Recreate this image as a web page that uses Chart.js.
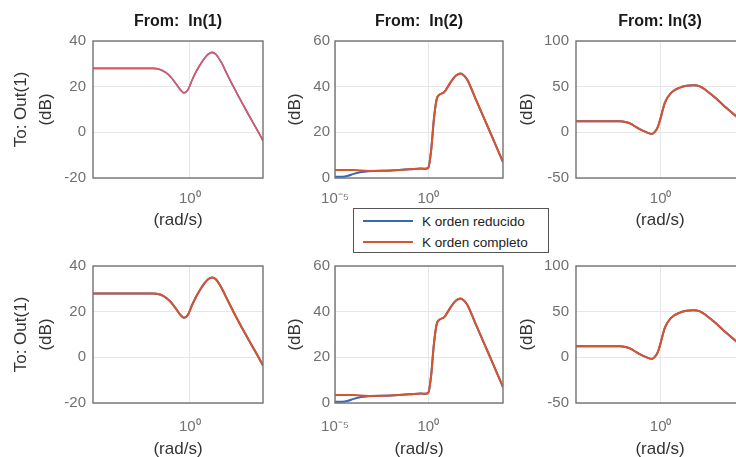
<!DOCTYPE html>
<html>
<head>
<meta charset="utf-8">
<script src="https://cdn.jsdelivr.net/npm/chart.js@4.4.0/dist/chart.umd.min.js"></script>
<style>
  html, body { margin: 0; padding: 0; background: #fff; overflow: hidden; }
  body { width: 736px; height: 457px; position: relative; font-family: 'Liberation Sans', Arial, Helvetica, sans-serif; }
  canvas { position: absolute; }
  #legend { position: absolute; left: 353px; top: 208px; width: 194px; height: 43px; border: 1px solid #555; background: #fff; }
  .lrow { position: absolute; left: 9px; height: 20px; display: flex; align-items: center; font-size: 13.5px; color: #222; white-space: nowrap; }
  .sw { width: 50px; height: 2px; margin-right: 9px; }
</style>
</head>
<body>
<canvas id="c11" width="275" height="236" style="left:0px;top:0px"></canvas>
<canvas id="c12" width="235" height="236" style="left:280px;top:0px"></canvas>
<canvas id="c13" width="248" height="236" style="left:512px;top:0px"></canvas>
<canvas id="c21" width="275" height="225" style="left:0px;top:240px"></canvas>
<canvas id="c22" width="235" height="225" style="left:280px;top:240px"></canvas>
<canvas id="c23" width="248" height="225" style="left:512px;top:240px"></canvas>
<div id="legend">
  <div class="lrow" style="top:2px"><div class="sw" style="background:#3667b8"></div><span>K orden reducido</span></div>
  <div class="lrow" style="top:23px"><div class="sw" style="background:#d9532c"></div><span>K orden completo</span></div>
</div>
<script>
// ---------------- DATA (frequency in rad/s, magnitude in dB) ----------------
const seriesNames = ['K orden reducido', 'K orden completo'];
const columnTitles = ['From:  In(1)', 'From:  In(2)', 'From: In(3)'];
const rowLabels = ['To: Out(1)', 'To: Out(1)'];

// In(1) -> Out(1): reduced and full order coincide
const freqIn1 = [6.3e-6, 1e-4, 1e-3, 0.01, 0.025, 0.055, 0.1, 0.19, 0.32, 0.48, 0.79, 1.26, 2.0, 3.5, 6.3, 10, 15.8, 25, 50, 100, 219, 1000, 4900, 8500];
const magIn1  = [28, 28, 28, 28, 27.5, 26, 24, 21, 18.5, 17.3, 18.6, 22.5, 26, 29.5, 32.6, 34.3, 35, 34.2, 30.5, 25.5, 20, 10, 0, -3.6];

// In(2) -> Out(1)
const freqIn2Red  = [1e-5, 1e-4, 6.3e-4, 0.01, 0.1, 0.4, 0.71, 1, 1.41, 2.0, 2.8, 4.0, 7.1, 15.8, 31.6, 55, 89, 126, 316, 1000, 3162, 10000];
const magIn2Red   = [3.5, 3.5, 3.1, 3.3, 3.8, 4.2, 4.0, 4.5, 12, 26, 34.5, 36.5, 37.6, 42, 45, 45.8, 44.5, 42.8, 35.3, 25.9, 16.5, 7];
const freqIn2Blue = [1e-5, 2.5e-5, 5e-5, 1e-4, 2.5e-4, 6.3e-4, 0.01, 0.1, 0.4, 0.71, 1, 1.41, 2.0, 2.8, 4.0, 7.1, 15.8, 31.6, 55, 89, 126, 316, 1000, 3162, 10000];
const magIn2Blue  = [0.6, 0.6, 1.0, 1.8, 2.6, 3.0, 3.3, 3.8, 4.2, 4.0, 4.5, 12, 26, 34.5, 36.5, 37.6, 42, 45, 45.8, 44.5, 42.8, 35.3, 25.9, 16.5, 7];

// In(3) -> Out(1): reduced and full order coincide
const freqIn3 = [2.7e-5, 1e-3, 6.3e-3, 0.0126, 0.025, 0.051, 0.1, 0.178, 0.32, 0.5, 0.71, 0.91, 1.7, 3.9, 11, 25, 59, 132, 302, 1000, 2344, 12300, 31623];
const magIn3  = [12, 12, 12, 11.3, 9.2, 5.4, 2.2, 0, -1.7, 0.8, 6, 12.8, 32.6, 43.8, 49, 51, 51.6, 50.4, 45.6, 37, 30, 17.3, 10];

// Tick values and labels
const yTicksIn1 = [-20, 0, 20, 40];
const yTicksIn2 = [0, 20, 40, 60];
const yTicksIn3 = [-50, 0, 50, 100];
const xTicksIn1 = [1];
const xTickLabelsIn1 = ['10\u2070'];
const xTicksIn2 = [1e-5, 1];
const xTickLabelsIn2 = ['10\u207B\u2075', '10\u2070'];
const xTicksIn3 = [1];
const xTickLabelsIn3 = ['10\u2070'];

// ---------------- STYLE ----------------
const FONT = "'Liberation Sans', Arial, Helvetica, sans-serif";
const BLUE = '#3667b8';
const RED = '#d9532c';

const frame = {
  id: 'frame',
  afterDatasetsDraw(chart) {
    const a = chart.chartArea, ctx = chart.ctx;
    ctx.save();
    ctx.strokeStyle = '#727272';
    ctx.lineWidth = 1.4;
    ctx.strokeRect(a.left, a.top, a.right - a.left, a.bottom - a.top);
    ctx.restore();
  }
};

function pts(fx, fy) { return fx.map((f, i) => ({ x: f, y: fy[i] })); }

function makePanel(id, p) {
  const datasets = [
    { label: seriesNames[0], order: 2, data: pts(p.bx, p.by), borderColor: BLUE, borderWidth: p.lw, pointRadius: 0, cubicInterpolationMode: 'monotone', fill: false },
    { label: seriesNames[1], order: 1, data: pts(p.rx, p.ry), borderColor: p.red || RED, borderWidth: p.lw, pointRadius: 0, cubicInterpolationMode: 'monotone', fill: false }
  ];
  new Chart(document.getElementById(id), {
    type: 'line',
    data: { datasets },
    plugins: [frame],
    options: {
      responsive: false,
      animation: false,
      devicePixelRatio: 1,
      layout: { padding: { left: 0, right: p.padRight, top: p.padTop, bottom: 0 } },
      plugins: {
        legend: { display: false },
        tooltip: { enabled: false },
        title: {
          display: !!p.title, text: p.title || '', fullSize: false,
          color: '#1a1a1a', font: { family: FONT, size: 16, weight: 'bold', lineHeight: 1.2 },
          padding: { top: 12, bottom: 9.8 }
        }
      },
      scales: {
        x: {
          type: 'logarithmic', min: p.xmin, max: p.xmax,
          afterBuildTicks: s => { s.ticks = p.xTicks.map(v => ({ value: v })); },
          afterFit: s => { s.height = p.xH; },
          grid: { color: '#e6e6e6', lineWidth: 1, drawTicks: false },
          border: { display: false },
          ticks: { color: '#707070', font: { family: FONT, size: 15 }, padding: p.xPad, maxRotation: 0, autoSkip: false,
                   callback: (v, i) => p.xLabels[i] },
          title: { display: !!p.xTitle, text: p.xTitle || '', color: '#333', font: { family: FONT, size: 17, lineHeight: 1.2 },
                   padding: { top: 0, bottom: 5.8 } }
        },
        y: {
          type: 'linear', min: p.ymin, max: p.ymax,
          afterBuildTicks: s => { s.ticks = p.yTicks.map(v => ({ value: v })); },
          afterFit: s => { s.width = p.yW; },
          grid: { color: '#e6e6e6', lineWidth: 1, drawTicks: false },
          border: { display: false },
          ticks: { color: '#707070', font: { family: FONT, size: 15 }, padding: p.yPad },
          title: { display: true, text: p.yTitle, color: '#333', font: { family: FONT, size: 17, lineHeight: '25px' },
                   padding: { top: p.yTitlePad, bottom: 0 } }
        }
      }
    }
  });
}

const rows = [
  { suffix: '1', padTop: 0, xH: 58, xPad: 12, titles: true },
  { suffix: '2', padTop: 26, xH: 62, xPad: 15, titles: false }
];

rows.forEach((r, ri) => {
  makePanel('c' + r.suffix + '1', {
    title: r.titles ? columnTitles[0] : null,
    bx: freqIn1, by: magIn1, rx: freqIn1, ry: magIn1,
    red: ri === 0 ? '#de5866' : RED, lw: ri === 0 ? 1.6 : 2,
    xmin: 6.3e-6, xmax: 8500, xTicks: xTicksIn1, xLabels: xTickLabelsIn1,
    ymin: -20, ymax: 40, yTicks: yTicksIn1,
    yTitle: [rowLabels[ri], '(dB)'], yTitlePad: 9.2, yW: 93, yPad: 7,
    xTitle: '(rad/s)', xH: r.xH, xPad: r.xPad, padRight: 12, padTop: r.padTop
  });
  makePanel('c' + r.suffix + '2', {
    title: r.titles ? columnTitles[1] : null,
    bx: freqIn2Blue, by: magIn2Blue, rx: freqIn2Red, ry: magIn2Red, lw: 2,
    xmin: 1e-5, xmax: 1e4, xTicks: xTicksIn2, xLabels: xTickLabelsIn2,
    ymin: 0, ymax: 60, yTicks: yTicksIn2,
    yTitle: '(dB)', yTitlePad: 2.5, yW: 55, yPad: 5,
    xTitle: ri === 0 ? null : '(rad/s)', xH: r.xH, xPad: r.xPad, padRight: 12, padTop: r.padTop
  });
  makePanel('c' + r.suffix + '3', {
    title: r.titles ? columnTitles[2] : null,
    bx: freqIn3, by: magIn3, rx: freqIn3, ry: magIn3, lw: 2,
    xmin: 2.7e-5, xmax: 31623, xTicks: xTicksIn3, xLabels: xTickLabelsIn3,
    ymin: -50, ymax: 100, yTicks: yTicksIn3,
    yTitle: '(dB)', yTitlePad: 3, yW: 64, yPad: 7,
    xTitle: '(rad/s)', xH: r.xH, xPad: r.xPad, padRight: 16, padTop: r.padTop
  });
});
</script>
</body>
</html>
